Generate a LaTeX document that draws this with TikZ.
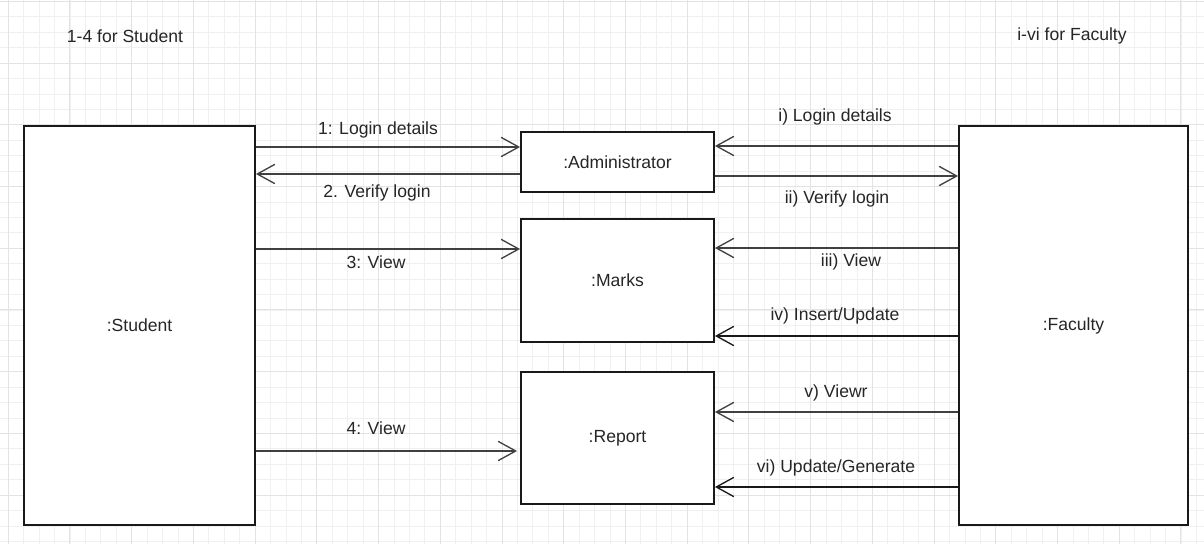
\documentclass[tikz,border=0pt]{standalone}
\usepackage{fontspec}
\setmainfont{Liberation Sans}
\usetikzlibrary{arrows.meta}
\begin{document}
\begin{tikzpicture}[x=0.02cm, y=-0.02cm,
  lbl/.style={font=\fontsize{10}{12}\selectfont, text=black!85, inner sep=0pt},
  obj/.style={draw=black!90, line width=1.1pt, fill=white, inner sep=0pt,
              font=\fontsize{10}{12}\selectfont, text=black!85},
  msg/.style={draw=black!75, line width=0.75pt,
              -{Straight Barb[length=10pt, width=11pt, line width=0.75pt]}},
  minorgrid/.style={draw=black!6, line width=0.4pt},
  majorgrid/.style={draw=black!11, line width=0.5pt}]
  \useasboundingbox (0,0) rectangle (1204,544);
  \fill[white] (0,0) rectangle (1204,544);
  % background grid: minor every 15.43px, major every 4 cells
  \foreach \i in {0,...,78} {
    \draw[minorgrid] ({8.2+15.43*\i},0) -- ({8.2+15.43*\i},544);
  }
  \foreach \j in {0,...,35} {
    \draw[minorgrid] (0,{1.3+15.43*\j}) -- (1204,{1.3+15.43*\j});
  }
  \foreach \i in {0,...,19} {
    \draw[majorgrid] ({8.2+61.72*\i},0) -- ({8.2+61.72*\i},544);
  }
  \foreach \j in {0,...,8} {
    \draw[majorgrid] (0,{1.3+61.72*\j}) -- (1204,{1.3+61.72*\j});
  }

  % headings
  \node[lbl] (hstud) at (125,36) {1-4 for Student};
  \node[lbl] (hfac) at (1072,36) {i-vi for Faculty};

  % objects
  \node[obj, minimum width=4.62cm, minimum height=7.98cm] (student) at (139.5,325.5) {:Student};
  \node[obj, minimum width=4.58cm, minimum height=7.98cm] (faculty) at (1073.5,325.5) {:Faculty};
  \node[obj, minimum width=3.86cm, minimum height=1.2cm] (admin) at (617.5,162) {:Administrator};
  \node[obj, minimum width=3.86cm, minimum height=2.46cm] (marks) at (617.5,280.5) {:Marks};
  \node[obj, minimum width=3.86cm, minimum height=2.64cm] (report) at (617.5,438) {:Report};

  % student messages
  \draw[msg] (student.east |- 0,147) -- (admin.west |- 0,147);
  \draw[msg] (admin.west |- 0,174) -- (student.east |- 0,174);
  \draw[msg] (student.east |- 0,249) -- (marks.west |- 0,249);
  \draw[msg] (student.east |- 0,451) -- ([xshift=-0.06cm]report.west |- 0,451);
  \node[lbl] (l1) at (378,130) {1: Login details};
  \node[lbl] (l2) at (377,193) {2. Verify login};
  \node[lbl] (l3) at (376,262) {3: View};
  \node[lbl] (l4) at (376,428) {4: View};

  % faculty messages
  \draw[msg] (faculty.west |- 0,146) -- (admin.east |- 0,146);
  \draw[msg] (admin.east |- 0,176) -- (faculty.west |- 0,176);
  \draw[msg] (faculty.west |- 0,248) -- (marks.east |- 0,248);
  \draw[msg, draw=black!90, line width=0.95pt] (faculty.west |- 0,336) -- (marks.east |- 0,336);
  \draw[msg] (faculty.west |- 0,412) -- (report.east |- 0,412);
  \draw[msg, draw=black!90, line width=0.95pt] (faculty.west |- 0,487) -- (report.east |- 0,487);
  \node[lbl] (li) at (835,117) {i) Login details};
  \node[lbl] (lii) at (837,199) {ii) Verify login};
  \node[lbl] (liii) at (851,262) {iii) View};
  \node[lbl] (liv) at (835,316) {iv) Insert/Update};
  \node[lbl] (lv) at (836,393) {v) Viewr};
  \node[lbl] (lvi) at (836,468) {vi) Update/Generate};
\end{tikzpicture}
\end{document}
